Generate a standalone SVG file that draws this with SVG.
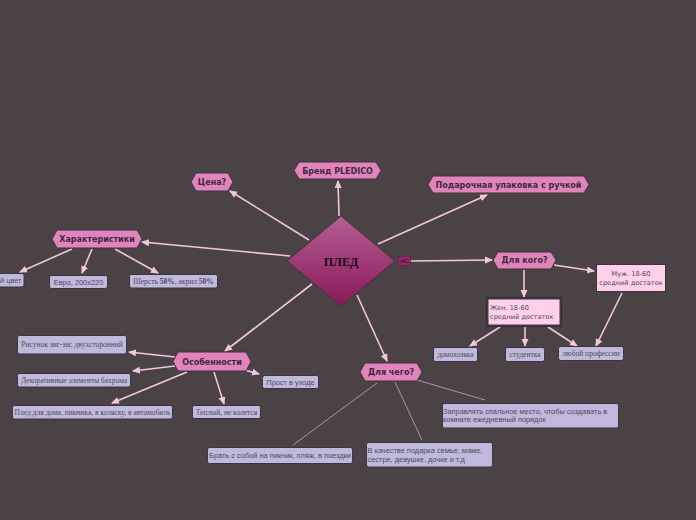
<svg xmlns="http://www.w3.org/2000/svg" width="696" height="520" viewBox="0 0 696 520">
<defs>
<linearGradient id="dg" x1="0" y1="0" x2="0" y2="1">
<stop offset="0" stop-color="#b55e94"/>
<stop offset="1" stop-color="#8a1858"/>
</linearGradient>
<marker id="ar" viewBox="0 0 8 8" refX="7" refY="4" markerWidth="8" markerHeight="8" markerUnits="userSpaceOnUse" orient="auto">
<path d="M0,0.5 L8,4 L0,7.5 Z" fill="#f4c6de"/>
</marker>
<style>
.hex{fill:#e283bb;stroke:#3d3540;stroke-width:1}
.ht{font-family:"DejaVu Sans",sans-serif;font-weight:bold;font-size:8px;fill:#3b2b3b;text-anchor:middle}
.lv{fill:#c1b9dc;stroke:#3a3444;stroke-width:1}
.pk{fill:#ffd0e8;stroke:#3a3444;stroke-width:1}
.ss{font-family:"Liberation Sans",Arial,sans-serif;font-size:7.4px;fill:#4a4a5a}
.sd{font-family:"DejaVu Sans",sans-serif;font-size:6.6px;fill:#4a4a5a}
.sf{font-family:"Liberation Serif",serif;font-size:7.5px;fill:#4a4a5a}
.c{stroke:#f4c6de;stroke-width:1.6;fill:none;marker-end:url(#ar)}
.t{stroke:#c8a8b8;stroke-width:0.8;fill:none}
</style>
</defs>
<rect width="696" height="520" fill="#4a4244"/>
<g id="connectors">
<line class="c" x1="309" y1="240" x2="230" y2="191"/>
<line class="c" x1="339" y1="216" x2="338" y2="181"/>
<line class="c" x1="378" y1="244" x2="487" y2="195"/>
<line class="c" x1="290" y1="256" x2="142" y2="242"/>
<line class="c" x1="411" y1="261" x2="492" y2="260"/>
<line class="c" x1="312" y1="284" x2="225" y2="351"/>
<line class="c" x1="357" y1="295" x2="387" y2="361"/>
<line class="c" x1="72" y1="249" x2="20" y2="272"/>
<line class="c" x1="92" y1="249" x2="82" y2="273"/>
<line class="c" x1="115" y1="249" x2="158" y2="273"/>
<line class="c" x1="554" y1="265" x2="594" y2="271"/>
<line class="c" x1="524" y1="270" x2="524" y2="297"/>
<line class="c" x1="500" y1="327" x2="470" y2="346"/>
<line class="c" x1="525" y1="327" x2="525" y2="346"/>
<line class="c" x1="548" y1="327" x2="577" y2="346"/>
<line class="c" x1="622" y1="293" x2="596" y2="346"/>
<line class="c" x1="175" y1="357" x2="129" y2="352"/>
<line class="c" x1="175" y1="366" x2="133" y2="371"/>
<line class="c" x1="187" y1="372" x2="112" y2="403"/>
<line class="c" x1="214" y1="372" x2="224" y2="404"/>
<line class="c" x1="245" y1="370" x2="259" y2="374"/>
<line class="t" x1="377" y1="383" x2="293" y2="445"/>
<line class="t" x1="395" y1="382" x2="422" y2="440"/>
<line class="t" x1="417" y1="380" x2="485" y2="400"/>
</g>
<g id="root">
<path d="M341,216 L395,261 L341,306 L287,261 Z" fill="url(#dg)" stroke="#3d3540" stroke-width="1"/>
<text x="341" y="266" font-family="Liberation Serif,serif" font-weight="bold" font-size="12" fill="#1a0a14" text-anchor="middle">ПЛЕД</text>
<rect x="398.5" y="256.5" width="12" height="9" fill="#9a2468" stroke="#5a1a40" stroke-width="0.5"/>
<text x="404.5" y="263.2" font-family="Liberation Sans,sans-serif" font-size="6" fill="#2a1020" text-anchor="middle">AC</text>
</g>
<g id="n-cena"><path class="hex" d="M191,182 L196,173 L228,173 L233,182 L228,191 L196,191 Z"/><text class="ht" x="212" y="185">Цена?</text></g>
<g id="n-brand"><path class="hex" d="M294,170.5 L299,162 L376,162 L381,170.5 L376,179 L299,179 Z"/><text class="ht" x="337.5" y="173.5">Бренд PLEDICO</text></g>
<g id="n-gift"><path class="hex" d="M428,184.5 L433,176 L584,176 L589,184.5 L584,193 L433,193 Z"/><text class="ht" x="508.5" y="187.5">Подарочная упаковка с ручкой</text></g>
<g id="n-char"><path class="hex" d="M52,239 L57,230 L137,230 L142,239 L137,248 L57,248 Z"/><text class="ht" x="97" y="242">Характеристики</text></g>
<g id="n-who"><path class="hex" d="M493,260 L498,252 L551,252 L556,260 L551,269 L498,269 Z"/><text class="ht" x="524.5" y="263">Для кого?</text></g>
<g id="n-feat"><path class="hex" d="M173,361.5 L178,352 L246,352 L251,361.5 L246,371 L178,371 Z"/><text class="ht" x="212" y="364.5">Особенности</text></g>
<g id="n-what"><path class="hex" d="M360,372 L365,363 L417,363 L422,372 L417,381 L365,381 Z"/><text class="ht" x="391" y="375">Для чего?</text></g>
<g id="n-color"><rect class="lv" x="-10" y="273.5" width="34" height="13.5" rx="2"/><text class="ss" x="0" y="282.5">й цвет</text></g>
<g id="n-euro"><rect class="lv" x="49.5" y="275.5" width="58" height="13" rx="2"/><text class="ss" x="78.5" y="284.5" text-anchor="middle">Евро, 200x220</text></g>
<g id="n-wool"><rect class="lv" x="129.5" y="274.5" width="88" height="13.5" rx="2"/><text class="sf" x="173.5" y="284" text-anchor="middle">Шерсть <tspan font-weight="bold">50%</tspan>, акрил <tspan font-weight="bold">50%</tspan></text></g>
<g id="n-men"><rect class="pk" x="596.5" y="264.5" width="69" height="27"/><text class="sd" x="631" y="275.5" text-anchor="middle">Муж. 18-60</text><text class="sd" x="631" y="284.5" text-anchor="middle">средний достаток</text></g>
<g id="n-women"><rect x="486.5" y="297.5" width="75" height="29" fill="none" stroke="#2e2a36" stroke-width="1"/><rect class="pk" x="488" y="299" width="72" height="26" stroke="none"/><text class="sd" x="490" y="310">Жен. 18-60</text><text class="sd" x="490" y="319">средний достаток</text></g>
<g id="n-house"><rect class="lv" x="433.5" y="347.5" width="44" height="14" rx="2"/><text class="sf" x="455.5" y="357" text-anchor="middle">домохозяка</text></g>
<g id="n-student"><rect class="lv" x="505.5" y="347.5" width="39" height="14" rx="2"/><text class="sf" x="525" y="357" text-anchor="middle">студентка</text></g>
<g id="n-any"><rect class="lv" x="558.5" y="346.5" width="65" height="14" rx="2"/><text class="sf" x="591" y="356" text-anchor="middle">любой профессии</text></g>
<g id="n-pattern"><rect class="lv" x="17.5" y="335.5" width="109" height="18.5" rx="2"/><text class="sf" x="72" y="347" text-anchor="middle">Рисунок зиг-заг, двухсторонний</text></g>
<g id="n-decor"><rect class="lv" x="17.5" y="373.5" width="113" height="13.5" rx="2"/><text class="sf" x="74" y="383" text-anchor="middle">Декоративные элементы бахрома</text></g>
<g id="n-use"><rect class="lv" x="12.5" y="405.5" width="160" height="13.5" rx="2"/><text class="sf" x="92.5" y="415" text-anchor="middle">Плед для дома, пикника, в коляску, в автомобиль</text></g>
<g id="n-warm"><rect class="lv" x="192.5" y="405.5" width="68" height="13" rx="2"/><text class="sf" x="226.5" y="414.5" text-anchor="middle">Теплый, не колется</text></g>
<g id="n-care"><rect class="lv" x="262.5" y="375.5" width="56" height="13" rx="2"/><text class="ss" x="290.5" y="384.5" text-anchor="middle">Прост в уходе</text></g>
<g id="n-take"><rect class="lv" x="207.5" y="447.5" width="145" height="16" rx="2"/><text class="ss" x="280" y="458" text-anchor="middle">Брать с собой на пикник, пляж, в поездки</text></g>
<g id="n-present"><rect class="lv" x="366.5" y="442.5" width="126" height="24.5" rx="2"/><text class="ss" x="367.5" y="452.5">В качестве подарка семье, маме,</text><text class="ss" x="367.5" y="461.5">сестре, девушке, дочке и т.д</text></g>
<g id="n-bed"><rect class="lv" x="442.5" y="403.5" width="176" height="24.5" rx="2"/><text class="ss" x="443" y="413.5">Заправлять спальное место, чтобы создавать в</text><text class="ss" x="443" y="422">комнате ежедневный порядок</text></g>
</svg>
